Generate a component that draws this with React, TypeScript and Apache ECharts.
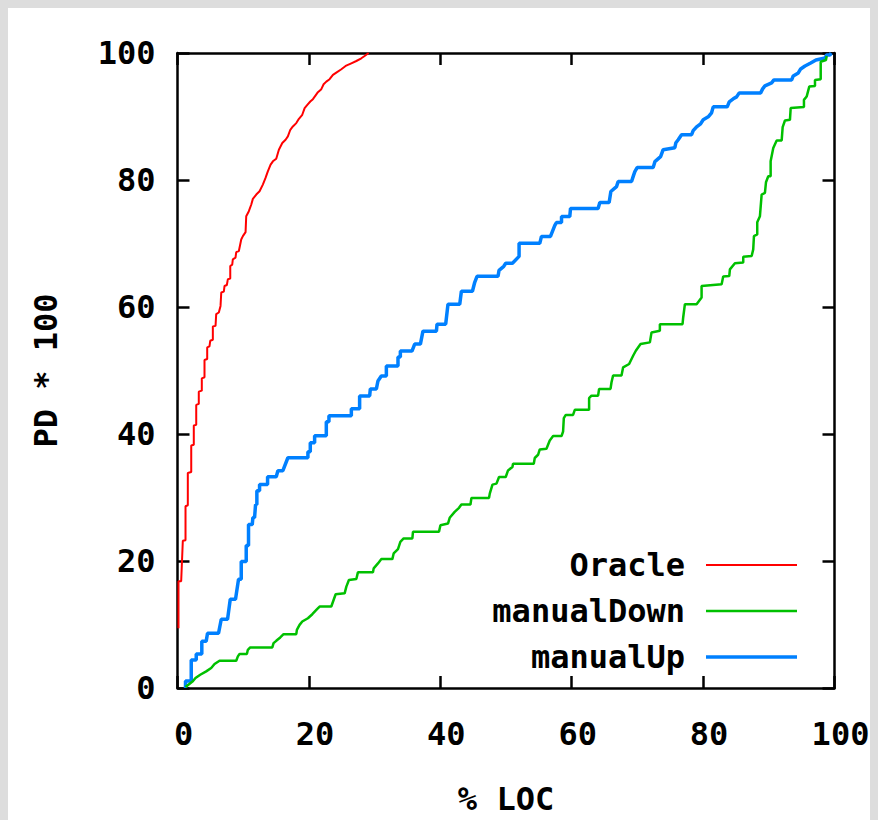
import React, { useEffect, useRef } from "react";
import * as echarts from "echarts";

const xTicks = [0, 20, 40, 60, 80, 100];
const yTicks = [0, 20, 40, 60, 80, 100];
const seriesNames = ["Oracle", "manualDown", "manualUp"];

const oraclePoints: [number, number][] = [
  [0.15, 9.42], [0.15, 16.8], [0.56, 16.8], [0.81, 23.19], [1.22, 23.28], [1.22, 28.62],
  [1.57, 28.78], [1.57, 33.86], [2.09, 34.02], [2.09, 38.19], [2.48, 38.3], [2.48, 41.33],
  [2.85, 41.44], [2.85, 44.58], [3.24, 44.74], [3.24, 46.67], [3.7, 46.83], [3.7, 48.76],
  [4.11, 48.93], [4.11, 51.65], [4.52, 51.81], [4.52, 53.64], [4.87, 53.8], [4.98, 54.68],
  [5.38, 54.84], [5.38, 56.94], [5.79, 57.03], [5.89, 58.87], [6.29, 59.13], [6.55, 60.17],
  [6.66, 62.28], [7.05, 62.43], [7.16, 63.31], [7.51, 63.47], [7.66, 64.36], [8.03, 64.47],
  [8.03, 66.45], [8.33, 66.67], [8.42, 67.5], [8.83, 67.77], [8.94, 68.65], [9.34, 68.81],
  [9.7, 70.64], [9.95, 71.16], [10.36, 71.79], [10.46, 74.3], [10.86, 75.09], [11.23, 76.14],
  [11.47, 77.03], [11.99, 77.71], [12.49, 78.23], [12.99, 79.28], [13.4, 80.33], [13.75, 81.37],
  [14.17, 82.42], [14.52, 82.94], [15.03, 83.36], [15.43, 84.77], [15.95, 85.82], [16.45, 86.34],
  [16.8, 86.86], [17.17, 87.91], [17.56, 88.43], [18.08, 88.96], [18.48, 89.64], [18.99, 90.27],
  [19.35, 91.32], [19.76, 91.84], [20.21, 92.36], [20.61, 92.73], [20.97, 93.25], [21.37, 93.83],
  [21.89, 94.3], [22.24, 95.08], [22.65, 95.49], [23.15, 95.87], [23.66, 96.55], [24.17, 96.91],
  [24.94, 97.44], [25.59, 97.96], [26.46, 98.38], [27.22, 98.74], [27.98, 99.17], [28.48, 99.53],
  [29.09, 100]
];

const manualDownPoints: [number, number][] = [
  [1.22, 0.16], [2.33, 1.05], [2.74, 1.57], [3.46, 2.09], [4.37, 2.62], [5.13, 3.14], [5.64, 3.77],
  [6.4, 4.29], [8.94, 4.29], [9.19, 4.98], [9.44, 5.34], [10.56, 5.34], [10.71, 6.01], [11.07, 6.39],
  [14.43, 6.39], [14.62, 7.06], [15.03, 7.43], [15.64, 7.96], [16.15, 8.48], [18.08, 8.48],
  [18.17, 9.15], [18.58, 9.94], [18.99, 10.47], [19.85, 10.99], [20.52, 11.62], [21.13, 12.29],
  [21.63, 12.83], [23.41, 12.83], [23.76, 13.86], [24.07, 14.76], [25.44, 14.91], [25.7, 15.97],
  [26.09, 17.0], [27.22, 17.16], [27.46, 18.21], [29.75, 18.21], [29.86, 18.84], [30.51, 19.62],
  [31.03, 20.3], [32.7, 20.3], [32.9, 21.19], [33.56, 21.87], [33.92, 23.03], [34.42, 23.55],
  [35.75, 23.55], [35.84, 24.6], [39.8, 24.6], [40.02, 25.64], [41.17, 25.9], [41.43, 26.8],
  [42.19, 27.74], [42.85, 28.37], [43.21, 28.89], [44.59, 28.89], [44.74, 29.94], [47.42, 29.94],
  [47.53, 30.61], [47.94, 32.03], [48.55, 32.18], [48.94, 33.23], [49.96, 33.23], [50.31, 34.27],
  [50.98, 34.8], [51.07, 35.32], [54.23, 35.32], [54.38, 36.22], [54.88, 36.73], [55.14, 37.57],
  [56.16, 37.68], [56.66, 38.98], [57.17, 39.67], [58.45, 39.67], [58.69, 40.39], [58.8, 42.5],
  [59.1, 43.01], [60.21, 43.01], [60.47, 43.8], [62.65, 43.8], [62.65, 45.64], [63.01, 46.04],
  [64.02, 46.04], [64.17, 47.1], [65.91, 47.1], [66.06, 48.15], [66.3, 49.22], [67.58, 49.22],
  [67.83, 50.5], [68.74, 51.02], [69.35, 52.32], [69.76, 53.11], [70.48, 54.16], [71.9, 54.43],
  [72.15, 56.0], [73.42, 56.26], [73.42, 57.3], [76.87, 57.3], [76.97, 58.35], [77.23, 60.44],
  [79.01, 60.44], [79.77, 61.49], [79.77, 63.31], [82.82, 63.58], [83.06, 64.79], [83.98, 64.88],
  [84.08, 65.93], [84.84, 66.88], [86.11, 66.99], [86.11, 67.93], [87.39, 68.03], [87.63, 69.07],
  [87.74, 71.16], [88.24, 71.43], [88.24, 73.36], [88.65, 74.3], [88.91, 77.71], [89.41, 77.97],
  [89.57, 79.64], [89.92, 80.58], [90.28, 80.58], [90.28, 82.94], [90.68, 85.04], [91.2, 86.23],
  [91.96, 86.23], [92.11, 88.34], [92.46, 89.37], [93.22, 89.48], [93.33, 91.32], [95.35, 91.48],
  [95.35, 92.62], [95.76, 93.14], [96.16, 94.71], [97.03, 94.82], [97.03, 95.76], [97.9, 95.87],
  [97.9, 98.63], [98.7, 98.9], [98.81, 99.53]
];

const manualUpPoints: [number, number][] = [
  [1.22, 0], [1.22, 1.1], [2.09, 1.1], [2.09, 4.4], [2.85, 4.4], [2.85, 5.34], [3.7, 5.34],
  [3.7, 7.38], [4.37, 7.38], [4.57, 8.63], [6.25, 8.63], [6.66, 10.83], [7.62, 10.83], [8.03, 13.97],
  [8.83, 13.97], [9.29, 17.11], [9.7, 17.11], [9.7, 19.94], [10.46, 19.94], [10.46, 22.45],
  [10.81, 22.45], [10.81, 25.75], [11.38, 25.75], [11.47, 26.84], [11.73, 26.84], [11.88, 28.89],
  [12.08, 28.89], [12.08, 31.08], [12.49, 31.08], [12.49, 32.03], [13.71, 32.03], [13.71, 33.28],
  [15.03, 33.28], [15.28, 34.22], [16.04, 34.22], [16.8, 36.26], [19.85, 36.26], [19.85, 37.21],
  [20.21, 37.21], [20.21, 38.62], [20.87, 38.62], [20.87, 39.72], [22.65, 39.72], [22.65, 41.92],
  [23.05, 41.92], [23.05, 42.86], [26.46, 42.86], [26.46, 43.96], [27.72, 43.96], [27.72, 46.0],
  [29.25, 46.0], [29.35, 47.1], [30.27, 47.1], [30.51, 48.35], [31.02, 49.14], [31.79, 49.14],
  [31.79, 50.71], [33.56, 50.71], [33.56, 52.12], [33.92, 52.12], [33.92, 53.06], [35.69, 53.06],
  [36.1, 54.16], [36.97, 54.16], [37.36, 56.2], [39.41, 56.2], [39.5, 57.3], [40.82, 57.3],
  [41.17, 60.44], [42.96, 60.44], [43.21, 62.48], [44.89, 62.48], [45.24, 63.89], [45.59, 64.84],
  [48.79, 64.84], [48.94, 65.78], [49.66, 66.41], [49.96, 66.88], [50.98, 66.88], [51.99, 67.97],
  [51.99, 70.02], [55.14, 70.02], [55.4, 71.11], [56.77, 71.11], [57.43, 72.84], [57.68, 73.31],
  [58.45, 73.31], [58.45, 74.25], [59.71, 74.25], [59.82, 75.51], [64.02, 75.51], [64.28, 76.45],
  [65.7, 76.45], [65.96, 78.18], [66.82, 78.96], [67.07, 79.75], [69.11, 79.75], [69.35, 80.53],
  [69.61, 81.32], [69.96, 81.95], [72.4, 81.95], [72.66, 82.89], [73.53, 83.67], [73.92, 84.77],
  [75.7, 85.09], [75.86, 85.87], [76.21, 86.34], [76.72, 87.13], [78.25, 87.13], [78.49, 87.76],
  [79.01, 88.38], [79.62, 88.85], [80.02, 89.48], [80.78, 89.95], [81.29, 90.58], [81.54, 91.52],
  [83.67, 91.52], [83.98, 92.31], [84.59, 92.78], [85.1, 93.09], [85.5, 93.72], [88.76, 93.72],
  [89.06, 94.35], [89.41, 94.82], [90.43, 95.29], [90.78, 95.76], [93.48, 95.76], [93.72, 96.39],
  [94.49, 96.86], [94.85, 97.49], [95.51, 97.96], [96.38, 98.43], [97.18, 98.9], [98.55, 99.21],
  [98.81, 99.69], [99.31, 99.69], [99.5, 100]
];

const colors = ["#ff0000", "#00c000", "#0080ff"];
const widths = [2, 2.5, 3.5];
const FONT = '"DejaVu Sans Mono", monospace';

export default function App() {
  const ref = useRef<HTMLDivElement>(null);
  useEffect(() => {
    document.documentElement.style.overflow = "hidden";
    document.body.style.background = "#dddddd";
    const chart = echarts.init(ref.current!, null, { renderer: "svg" });
    const textBase = { fontFamily: FONT, fontWeight: "bold" as const, fontSize: 32, color: "#000" };
    const axisLine = { show: true, onZero: false, lineStyle: { color: "#000", width: 2.5 } };
    const axisTick = { show: true, inside: true, length: 12, lineStyle: { color: "#000", width: 2.5 } };
    const allData = [oraclePoints, manualDownPoints, manualUpPoints];
    chart.setOption({
      animation: false,
      backgroundColor: "#ffffff",
      grid: { left: 169.5, right: 43.5, top: 45, bottom: 130, containLabel: false },
      legend: {
        orient: "vertical",
        align: "right",
        right: 81,
        top: 541,
        padding: 0,
        itemWidth: 91,
        itemHeight: 14,
        itemGap: 14,
        selectedMode: false,
        textStyle: { ...textBase, lineHeight: 30, padding: [0, 16, 0, 0] },
        data: seriesNames.map((n, i) => ({
          name: n,
          icon: `path://M0 0H91V${widths[i]}H0Z`,
          itemStyle: { color: colors[i] },
        })),
      },
      xAxis: [
        {
          type: "value",
          min: xTicks[0],
          max: xTicks[xTicks.length - 1],
          interval: 20,
          position: "bottom",
          axisLine,
          axisTick,
          splitLine: { show: false },
          axisLabel: { ...textBase, margin: 30, lineHeight: 32, padding: [0, 0, 0, 12] },
          name: "% LOC",
          nameLocation: "middle",
          nameGap: 95,
          nameTextStyle: { ...textBase },
        },
        {
          type: "value",
          min: xTicks[0],
          max: xTicks[xTicks.length - 1],
          interval: 20,
          position: "top",
          axisLine,
          axisTick,
          splitLine: { show: false },
          axisLabel: { show: false },
        },
      ],
      yAxis: [
        {
          type: "value",
          min: yTicks[0],
          max: yTicks[yTicks.length - 1],
          interval: 20,
          position: "left",
          axisLine,
          axisTick,
          splitLine: { show: false },
          axisLabel: { ...textBase, margin: 22 },
          name: "PD * 100",
          nameLocation: "middle",
          nameGap: 116,
          nameTextStyle: { ...textBase },
        },
        {
          type: "value",
          min: yTicks[0],
          max: yTicks[yTicks.length - 1],
          interval: 20,
          position: "right",
          axisLine,
          axisTick,
          splitLine: { show: false },
          axisLabel: { show: false },
        },
      ],
      series: seriesNames.map((n, i) => ({
        name: n,
        type: "line",
        xAxisIndex: 0,
        yAxisIndex: 0,
        data: allData[i],
        symbol: "none",
        showSymbol: false,
        color: colors[i],
        lineStyle: { color: colors[i], width: widths[i] },
        z: 3 - i,
      })),
    });
    return () => chart.dispose();
  }, []);
  return <div ref={ref} style={{ width: 870, height: 812, background: "#ffffff" }} />;
}
